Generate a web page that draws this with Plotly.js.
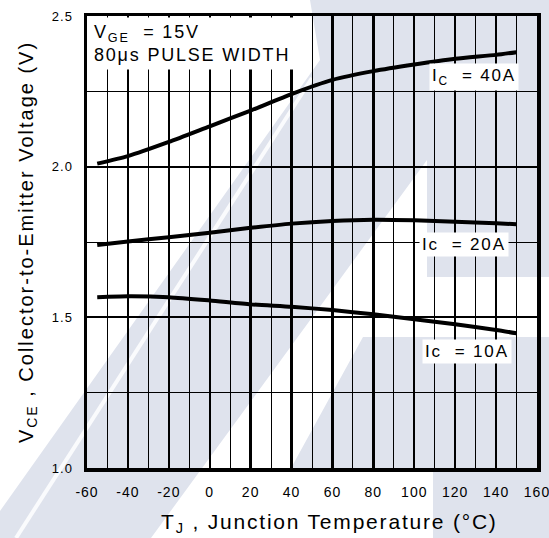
<!DOCTYPE html>
<html>
<head>
<meta charset="utf-8">
<script src="https://cdn.plot.ly/plotly-3.0.1.min.js"></script>
<style>
  html, body { margin: 0; padding: 0; background: #ffffff; }
  #wrap { position: relative; width: 549px; height: 538px; overflow: hidden; }
  #bg { position: absolute; left: 0; top: 0; z-index: 0; }
  #chart { position: absolute; left: 0; top: 0; width: 549px; height: 538px; z-index: 1; }
  .xtick text, .ytick text { letter-spacing: 1px; }
  text.ytitle { letter-spacing: 2px; }
  text.annotation-text { letter-spacing: 1.8px; }
</style>
</head>
<body>
<div id="wrap">
  <svg id="bg" width="549" height="538" xmlns="http://www.w3.org/2000/svg">
    <polygon fill="#dfe3ed" points="310,0 549,0 549,277 427,277 427,160 151,538 0,538 0,511 320,60"/>
    <polygon fill="#dfe3ed" points="363,337 549,337 549,538 433,538 433,470 290,470"/>
    <line x1="16" y1="538" x2="312" y2="78" stroke="#ffffff" stroke-width="4" stroke-opacity="0.85"/>
  </svg>
  <div id="chart"></div>
</div>
<script>
// ---- data ----
const temps = [-55, -40, -20, 0, 20, 40, 60, 80, 100, 120, 140, 150];
const vce40 = [2.010, 2.035, 2.082, 2.134, 2.186, 2.241, 2.288, 2.317, 2.339, 2.358, 2.371, 2.380];
const vce20 = [1.740, 1.752, 1.766, 1.781, 1.797, 1.811, 1.820, 1.824, 1.822, 1.817, 1.812, 1.809];
const vce10 = [1.567, 1.570, 1.567, 1.556, 1.543, 1.535, 1.524, 1.510, 1.494, 1.477, 1.458, 1.447];

const xTickVals = [-60, -40, -20, 0, 20, 40, 60, 80, 100, 120, 140, 160];
const xTickText = ['-60', '-40', '-20', '0', '20', '40', '60', '80', '100', '120', '140', '160'];
const yTickVals = [1.0, 1.5, 2.0, 2.5];
const yTickText = ['1.0', '1.5', '2.0', '2.5'];

const seriesLabels = ['I<sub>C</sub>\u00a0 = 40A', 'Ic\u00a0 = 20A', 'Ic\u00a0 = 10A'];
const conditionText = 'V<sub>GE</sub>\u00a0 = 15V<br>80μs PULSE WIDTH';
const xTitle = 'T<sub>J</sub> , Junction Temperature (°C)';
const yTitle = 'V<sub>CE</sub> , Collector-to-Emitter Voltage (V)';

const FONT = '"Liberation Sans", Arial, Helvetica, sans-serif';

function curve(y) {
  return {
    x: temps, y: y, type: 'scatter', mode: 'lines',
    line: { color: '#000', width: 4, shape: 'spline', smoothing: 0.6 },
    hoverinfo: 'skip', showlegend: false
  };
}

const data = [curve(vce40), curve(vce20), curve(vce10)];

const labelStyle = {
  showarrow: false, bgcolor: '#ffffff', borderpad: 2,
  font: { family: FONT, size: 17, color: '#000' },
  xanchor: 'center', yanchor: 'middle'
};

const layout = {
  width: 549, height: 538,
  margin: { l: 87, r: 12, t: 16, b: 70 },
  paper_bgcolor: 'rgba(0,0,0,0)',
  plot_bgcolor: 'rgba(0,0,0,0)',
  font: { family: FONT, color: '#000' },
  showlegend: false,
  xaxis: {
    range: [-60, 160],
    tickmode: 'array', tickvals: xTickVals, ticktext: xTickText,
    ticks: '', ticklabelstandoff: 9, ticklabeloverflow: 'allow',
    tickfont: { family: FONT, size: 14, color: '#000' },
    showgrid: true, gridcolor: '#000', gridwidth: 2.3,
    minor: { dtick: 10, tick0: -60, showgrid: true, gridcolor: '#000', gridwidth: 1, ticks: '' },
    showline: true, mirror: true, linecolor: '#000', linewidth: 3.5,
    zeroline: false, fixedrange: true
  },
  yaxis: {
    range: [1.0, 2.5],
    tickmode: 'array', tickvals: yTickVals, ticktext: yTickText,
    ticks: '', ticklabelstandoff: 8, ticklabeloverflow: 'allow',
    tickfont: { family: FONT, size: 13, color: '#000' },
    showgrid: true, gridcolor: '#000', gridwidth: 2.3,
    minor: { dtick: 0.25, tick0: 1.0, showgrid: true, gridcolor: '#000', gridwidth: 1, ticks: '' },
    showline: true, mirror: true, linecolor: '#000', linewidth: 3.5,
    zeroline: false, fixedrange: true,
    title: { text: yTitle, font: { family: FONT, size: 20, color: '#000' }, standoff: 14 }
  },
  annotations: [
    Object.assign({}, labelStyle, { text: seriesLabels[0], x: 129, y: 2.296, xref: 'x', yref: 'y' }),
    Object.assign({}, labelStyle, { text: seriesLabels[1], x: 124.3, y: 1.743, xref: 'x', yref: 'y' }),
    Object.assign({}, labelStyle, { text: seriesLabels[2], x: 125.8, y: 1.388, xref: 'x', yref: 'y' }),
    {
      text: conditionText, showarrow: false, align: 'left',
      xref: 'paper', yref: 'paper', x: 0, y: 1, xanchor: 'left', yanchor: 'top',
      xshift: 2, yshift: -1,
      bgcolor: '#ffffff', borderpad: 4,
      font: { family: FONT, size: 18, color: '#000' }
    },
    {
      text: xTitle, showarrow: false,
      xref: 'paper', yref: 'paper', x: 0.538, y: -0.122, xanchor: 'center', yanchor: 'middle',
      font: { family: FONT, size: 21, color: '#000' }
    }
  ]
};

Plotly.newPlot('chart', data, layout, { displayModeBar: false, staticPlot: true });
</script>
</body>
</html>
